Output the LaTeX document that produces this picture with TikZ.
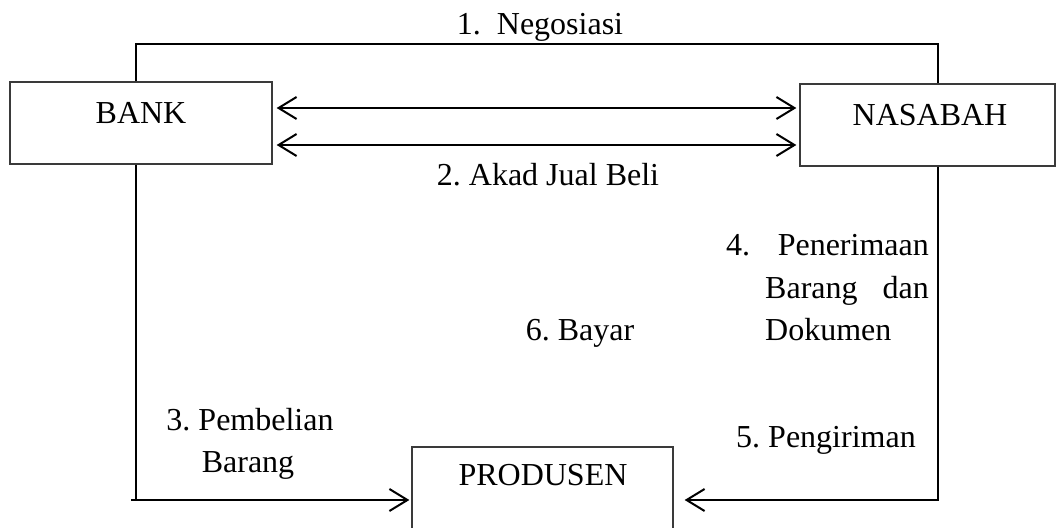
\documentclass[tikz,border=0pt]{standalone}
\usepackage{fontspec}
\setmainfont{Liberation Serif}
\usetikzlibrary{arrows.meta}
\definecolor{boxline}{HTML}{3A3A3A}
\frenchspacing
\tikzset{
  box/.style={draw=boxline, line width=1.3pt, rectangle, inner sep=0pt},
  lbl/.style={inner sep=0pt, anchor=base, font=\fontsize{32}{42}\selectfont},
  conn/.style={draw=black, line width=2pt},
  arr/.style={conn, -{Straight Barb[length=18pt,width=22pt]}},
  dbl/.style={conn, {Straight Barb[length=18pt,width=22pt]}-{Straight Barb[length=18pt,width=22pt]}}
}
\begin{document}
\begin{tikzpicture}[x=1pt,y=-1pt]
\useasboundingbox (0,0) rectangle (1056,527);
\clip (0,0) rectangle (1056,527);
% boxes
\node[box, minimum width=262pt, minimum height=82pt] (bank) at (141,123) {};
\node[box, minimum width=255pt, minimum height=82pt] (nasabah) at (927.5,125) {};
\node[box, minimum width=261pt, minimum height=100pt] (produsen) at (542.5,497) {};
% box texts
\node[lbl] (banktxt) at (141,123) {BANK};
\node[lbl] (nasabahtxt) at (930,125) {NASABAH};
\node[lbl] (produsentxt) at (543,485) {PRODUSEN};
% helper coordinates
\coordinate (n1) at (136,44);
\coordinate (n2) at (938,44);
\coordinate (b0) at (131,500);
\coordinate (b1) at (136,500);
\coordinate (r1) at (938,500);
% connectors
\draw[conn] (bank.north -| n1) -- (n1) -- (n2) -- (nasabah.north -| n2);
\draw[dbl, shorten <=4pt, shorten >=3pt] ([yshift=15pt]bank.east) -- ([yshift=15pt]bank.east -| nasabah.west);
\draw[dbl, shorten <=4pt, shorten >=3pt] ([yshift=-22pt]bank.east) -- ([yshift=-22pt]bank.east -| nasabah.west);
\draw[conn] (bank.south -| b1) -- (b1);
\draw[arr, shorten >=2pt] (b0) -- (b0 -| produsen.west);
\draw[arr, shorten >=11pt] (nasabah.south -| r1) -- (r1) -- (r1 -| produsen.east);
% labels
\node[lbl] (l1) at (540,35) {1.\ \ Negosiasi};
\node[lbl] (l2) at (548,185) {2. Akad Jual Beli};
\node[lbl, anchor=base west] (l4a) at (726,255) {4.};
\node[lbl, anchor=base east] (l4b) at (929,255) {Penerimaan};
\node[lbl, anchor=base west] (l4c) at (765,298) {Barang};
\node[lbl, anchor=base east] (l4d) at (929,298) {dan};
\node[lbl, anchor=base west] (l4e) at (765,340) {Dokumen};
\node[lbl] (l6) at (580,340) {6. Bayar};
\node[lbl] (l3a) at (250,430) {3. Pembelian};
\node[lbl] (l3b) at (248,472) {Barang};
\node[lbl] (l5) at (826,447) {5. Pengiriman};
\end{tikzpicture}
\end{document}
